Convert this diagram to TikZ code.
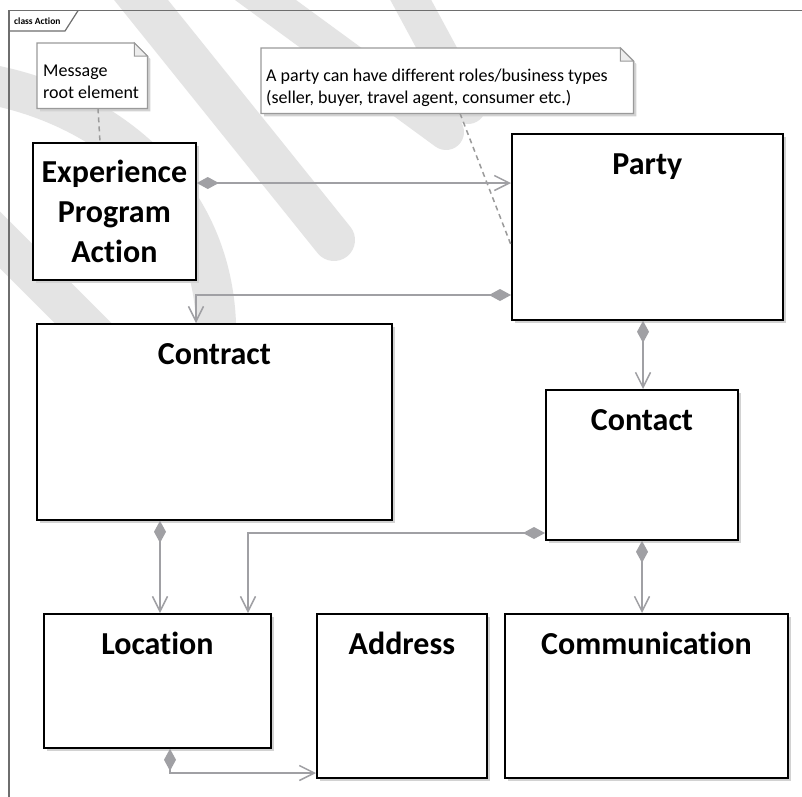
\documentclass[tikz,border=0pt]{standalone}
\usepackage{fontspec}
\setmainfont{Carlito}[Ligatures=NoCommon]
\usetikzlibrary{arrows.meta,shadows,calc}
\definecolor{conn}{HTML}{A0A0A4}
\definecolor{framec}{HTML}{6E6E6E}
\definecolor{notec}{HTML}{9A9A9A}
\definecolor{shadowc}{HTML}{D2D2D2}
\definecolor{foldc}{HTML}{EDEDED}
\definecolor{wmark}{HTML}{E4E4E4}
\begin{document}
\begin{tikzpicture}[x=1pt,y=-1pt,
  cls/.style={draw=black, line width=1.8pt, fill=white, inner sep=0pt, anchor=north west,
    drop shadow={shadow xshift=3.5pt, shadow yshift=-3.5pt, fill=shadowc, opacity=1}},
  ttl/.style={font=\fontsize{32}{39}\selectfont\bfseries, inner sep=0pt, anchor=base},
  assoc/.style={draw=conn, line width=1.5pt,
    arrows={Diamond[length=22pt,width=12pt]-Straight Barb[length=15pt,width=15pt]}},
  notelink/.style={draw=notec, line width=1.5pt, dash pattern=on 5pt off 4pt},
  notearea/.style={draw=none, inner sep=0pt, anchor=north west},
  notetext/.style={font=\fontsize{18}{22}\selectfont, align=left, inner sep=0pt, anchor=west},
  wm/.style={draw=wmark, line width=36pt, line cap=round},
]
\useasboundingbox (0,0) rectangle (802,796);
\clip (0,0) rectangle (802,796);
\fill[white] (0,0) rectangle (802,796);

% watermark (background)
\draw[wm, line width=42pt] (125,-20) -- (334,240);
\draw[wm] (245,-15) -- (446,132);
\draw[wm] (400,-20) -- (468,106);
\draw[wm, line width=40pt] (-25,82) .. controls (100,100) and (222,190) .. (216,345);
\draw[wm, line width=40pt] (-25,215) -- (105,345);

% frame
\draw[framec, line width=1.5pt] (9,810) -- (9,10.7) -- (820,10.7);
\draw[framec, line width=1.2pt] (9,31) -- (65,31) -- (78,10.7);
\node[font=\fontsize{9.5}{11}\selectfont\bfseries, inner sep=0pt, anchor=base west] (frametitle) at (14,24) {class Action};

% notes
\node[notearea, minimum width=110pt, minimum height=65pt] (msgnote) at (37,43) {};
\node[notearea, minimum width=372pt, minimum height=65pt] (ptynote) at (261,48) {};
\foreach \n in {msgnote,ptynote}{
  \fill[shadowc] ($(\n.north west)+(3,3)$) -- ($(\n.north east)+(-10,3)$) -- ($(\n.north east)+(3,16)$)
     -- ($(\n.south east)+(3,3)$) -- ($(\n.south west)+(3,3)$) -- cycle;
  \filldraw[fill=white, draw=notec, line width=1.2pt] (\n.north west) -- ($(\n.north east)+(-13,0)$)
     -- ($(\n.north east)+(0,13)$) -- (\n.south east) -- (\n.south west) -- cycle;
  \filldraw[fill=foldc, draw=notec, line width=1pt] ($(\n.north east)+(-13,0)$) -- ($(\n.north east)+(-13,13)$)
     -- ($(\n.north east)+(0,13)$) -- cycle;
}
\node[notetext] (msgtext) at (43,82) {Message\\root element};
\node[notetext] (ptytext) at (266,88) {A party can have different roles/business types\\(seller, buyer, travel agent, consumer etc.)};

% classes
\node[cls, minimum width=163pt, minimum height=137pt] (epa) at (32,142) {};
\node[cls, minimum width=271pt, minimum height=186pt] (party) at (511,133) {};
\node[cls, minimum width=355pt, minimum height=196pt] (contract) at (36,323) {};
\node[cls, minimum width=192pt, minimum height=150pt] (contact) at (545,389) {};
\node[cls, minimum width=227pt, minimum height=134pt] (location) at (43,613) {};
\node[cls, minimum width=170pt, minimum height=164pt] (address) at (316,613) {};
\node[cls, minimum width=283pt, minimum height=164pt] (comm) at (504,613) {};

\node[font=\fontsize{32}{40}\selectfont\bfseries, align=center, inner sep=0pt] (epa-t) at (epa.center) {Experience\\Program\\Action};
\node[ttl] (party-t) at ([yshift=-41pt]party.north) {Party};
\node[ttl] (contract-t) at ([yshift=-41pt]contract.north) {Contract};
\node[ttl] (contact-t) at ([yshift=-41pt]contact.north) {Contact};
\node[ttl] (location-t) at ([yshift=-41pt]location.north) {Location};
\node[ttl] (address-t) at ([yshift=-41pt]address.north) {Address};
\node[ttl] (comm-t) at ([yshift=-41pt]comm.north) {Communication};

% note links
\draw[notelink] (msgnote.south -| 98,0) -- (epa.north -| 100,0);
\draw[notelink] (ptynote.south -| 460,0) -- (party.west |- 0,245);

% associations
\draw[assoc] (epa.east |- 0,183) -- (party.west |- 0,183);
\draw[assoc] (party.west |- 0,295) -| (contract.north -| 196,0);
\draw[assoc] (party.south -| 643,0) -- (contact.north -| 643,0);
\draw[assoc] (contract.south -| 160,0) -- (location.north -| 160,0);
\draw[assoc] (contact.west |- 0,533) -| (location.north -| 248,0);
\draw[assoc] (contact.south -| 642,0) -- (comm.north -| 642,0);
\draw[assoc] (location.south -| 170,0) |- (address.west |- 0,773);
\end{tikzpicture}
\end{document}
